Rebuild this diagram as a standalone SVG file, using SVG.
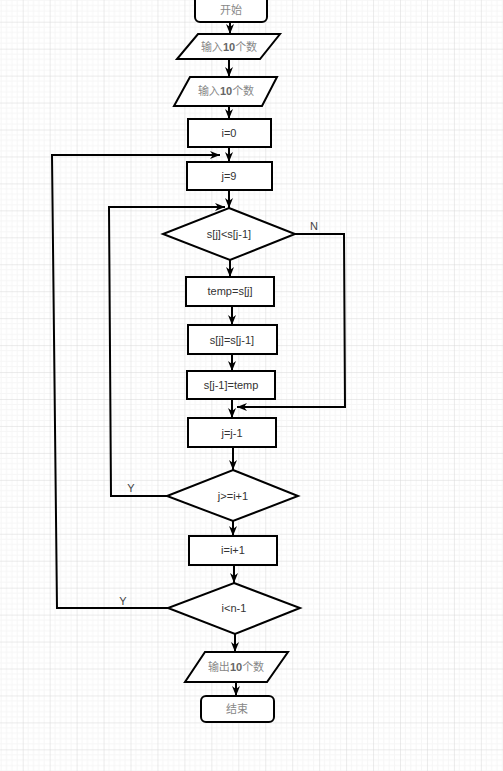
<svg xmlns="http://www.w3.org/2000/svg" width="503" height="771" viewBox="0 0 503 771">
<defs>
<pattern id="grid" x="22.7" y="21.7" width="26.95" height="26.95" patternUnits="userSpaceOnUse">
<path d="M5.39,0 V26.95 M10.78,0 V26.95 M16.17,0 V26.95 M21.56,0 V26.95 M0,5.39 H26.95 M0,10.78 H26.95 M0,16.17 H26.95 M0,21.56 H26.95" fill="none" stroke="#f6f6f6" stroke-width="1"/>
<path d="M0,0 H26.95 M0,0 V26.95" fill="none" stroke="#d8d8d8" stroke-width="1"/>
</pattern>
<marker id="arr" viewBox="0 0 10 10" refX="10" refY="5" markerWidth="10" markerHeight="10" markerUnits="userSpaceOnUse" orient="auto">
<path d="M0,1 L10,5 L0,9 L3,5 z" fill="#000"/>
</marker>
</defs>
<style>
.shape{fill:#fff;stroke:#000;stroke-width:2}
.edge{fill:none;stroke:#000;stroke-width:2;marker-end:url(#arr)}
.t{font-family:"Liberation Sans",Arial,sans-serif;font-size:11px;fill:#333;text-anchor:middle;dominant-baseline:central}
.c{font-family:"Liberation Serif","Noto Sans CJK SC",serif;font-size:11px;fill:#888;text-anchor:middle;dominant-baseline:central}
.n{font-family:"Liberation Sans",Arial,sans-serif;font-weight:bold;fill:#666}
.lbl{font-family:"Liberation Sans",Arial,sans-serif;font-size:11px;fill:#444;text-anchor:middle;dominant-baseline:central}
</style>
<rect width="503" height="771" fill="#fff"/>
<rect width="503" height="771" fill="url(#grid)"/>

<g id="connectors">
<line class="edge" x1="230" y1="22" x2="230" y2="34"/>
<line class="edge" x1="229" y1="59" x2="229" y2="77"/>
<line class="edge" x1="229" y1="106" x2="229" y2="119"/>
<line class="edge" x1="229" y1="147" x2="229" y2="162"/>
<polyline class="edge" points="168,608 57,608 52,155 220,155"/>
<line class="edge" x1="229" y1="190" x2="229" y2="208"/>
<polyline class="edge" points="167,496 111,496 109,207 225,207"/>
<line class="edge" x1="230" y1="260" x2="230" y2="277"/>
<polyline class="edge" points="295,234 344,234 345,407 237,407"/>
<line class="edge" x1="232" y1="306" x2="232" y2="325"/>
<line class="edge" x1="232" y1="354" x2="232" y2="371"/>
<line class="edge" x1="232" y1="399" x2="232" y2="418"/>
<line class="edge" x1="233" y1="447" x2="233" y2="470"/>
<line class="edge" x1="233" y1="521" x2="233" y2="536"/>
<line class="edge" x1="234" y1="565" x2="234" y2="583"/>
<line class="edge" x1="235" y1="634" x2="235" y2="652"/>
<line class="edge" x1="236" y1="682" x2="236" y2="696"/>
<text class="lbl" x="314" y="226">N</text>
<text class="lbl" x="131" y="488">Y</text>
<text class="lbl" x="123" y="601">Y</text>
</g>

<g id="start">
<rect class="shape" x="195" y="-10" width="72" height="32" rx="5"/>
<text class="c" x="231" y="10">开始</text>
</g>
<g id="input1">
<polygon class="shape" points="198,34 280,34 260,59 177,59"/>
<text class="c" x="229" y="47">输入<tspan class="n">10</tspan>个数</text>
</g>
<g id="input2">
<polygon class="shape" points="190,77 277,77 262,106 174,106"/>
<text class="c" x="226" y="91">输入<tspan class="n">10</tspan>个数</text>
</g>
<g id="i0">
<rect class="shape" x="188" y="119" width="83" height="28"/>
<text class="t" x="229" y="133">i=0</text>
</g>
<g id="j9">
<rect class="shape" x="187" y="162" width="85" height="28"/>
<text class="t" x="229" y="176">j=9</text>
</g>
<g id="cmp">
<polygon class="shape" points="229,208 295,234 230,260 163,234"/>
<text class="t" x="229" y="234">s[j]&lt;s[j-1]</text>
</g>
<g id="temp">
<rect class="shape" x="186" y="277" width="88" height="29"/>
<text class="t" x="230" y="291">temp=s[j]</text>
</g>
<g id="swap1">
<rect class="shape" x="188" y="325" width="89" height="29"/>
<text class="t" x="232" y="340">s[j]=s[j-1]</text>
</g>
<g id="swap2">
<rect class="shape" x="187" y="371" width="88" height="28"/>
<text class="t" x="231" y="385">s[j-1]=temp</text>
</g>
<g id="jdec">
<rect class="shape" x="188" y="418" width="88" height="29"/>
<text class="t" x="232" y="433">j=j-1</text>
</g>
<g id="jcond">
<polygon class="shape" points="233,470 298,496 233,521 167,496"/>
<text class="t" x="233" y="496">j&gt;=i+1</text>
</g>
<g id="iinc">
<rect class="shape" x="189" y="536" width="88" height="29"/>
<text class="t" x="233" y="550">i=i+1</text>
</g>
<g id="icond">
<polygon class="shape" points="234,583 300,608 235,634 168,608"/>
<text class="t" x="234" y="608">i&lt;n-1</text>
</g>
<g id="output">
<polygon class="shape" points="205,652 288,652 267,682 185,682"/>
<text class="c" x="236" y="667">输出<tspan class="n">10</tspan>个数</text>
</g>
<g id="end">
<rect class="shape" x="201" y="696" width="73" height="26" rx="5"/>
<text class="c" x="237" y="709">结束</text>
</g>
</svg>
